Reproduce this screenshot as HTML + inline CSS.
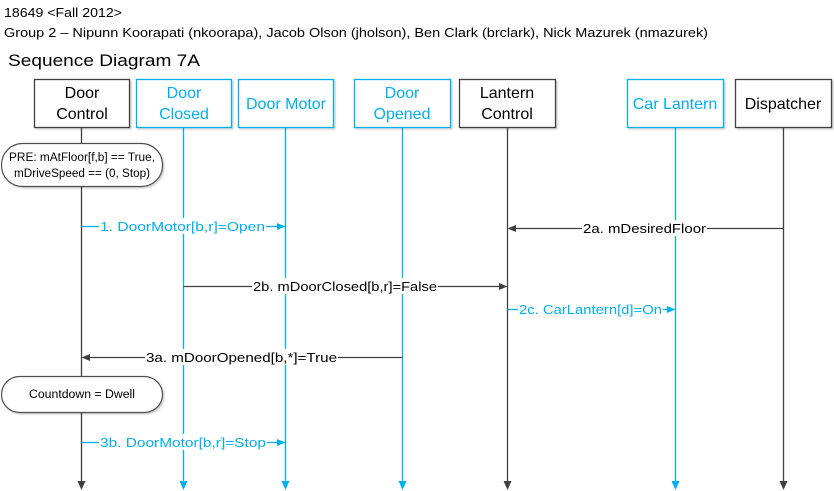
<!DOCTYPE html>
<html><head><meta charset="utf-8"><style>
html,body{margin:0;padding:0;background:#fff;}
svg{display:block;}
text{font-family:"Liberation Sans",sans-serif;}
</style></head><body>
<svg width="834" height="491" viewBox="0 0 834 491" xmlns="http://www.w3.org/2000/svg">
<defs>
<filter id="sh" x="-10%" y="-10%" width="130%" height="130%"><feDropShadow dx="1.5" dy="1.5" stdDeviation="0.8" flood-color="#000" flood-opacity="0.18"/></filter>
</defs>
<text x="4" y="17" font-size="13" fill="#000" textLength="118" lengthAdjust="spacingAndGlyphs">18649 &lt;Fall 2012&gt;</text>
<text x="4" y="37" font-size="13" fill="#000" textLength="704" lengthAdjust="spacingAndGlyphs">Group 2 – Nipunn Koorapati (nkoorapa), Jacob Olson (jholson), Ben Clark (brclark), Nick Mazurek (nmazurek)</text>
<text x="8" y="66" font-size="17" fill="#000" textLength="192" lengthAdjust="spacingAndGlyphs">Sequence Diagram 7A</text>

<g stroke-width="1.3">
<line x1="81.5" y1="127" x2="81.5" y2="483" stroke="#404040"/>
<line x1="183.5" y1="127" x2="183.5" y2="483" stroke="#00b0f0"/>
<line x1="285.5" y1="127" x2="285.5" y2="483" stroke="#00b0f0"/>
<line x1="402.5" y1="127" x2="402.5" y2="483" stroke="#00b0f0"/>
<line x1="507.5" y1="127" x2="507.5" y2="483" stroke="#404040"/>
<line x1="675.5" y1="127" x2="675.5" y2="483" stroke="#00b0f0"/>
<line x1="783.5" y1="127" x2="783.5" y2="483" stroke="#404040"/>
</g>
<g>
<path d="M77.5,481 L85.5,481 L81.5,490 Z" fill="#404040"/>
<path d="M179.5,481 L187.5,481 L183.5,490 Z" fill="#00b0f0"/>
<path d="M281.5,481 L289.5,481 L285.5,490 Z" fill="#00b0f0"/>
<path d="M398.5,481 L406.5,481 L402.5,490 Z" fill="#00b0f0"/>
<path d="M503.5,481 L511.5,481 L507.5,490 Z" fill="#404040"/>
<path d="M671.5,481 L679.5,481 L675.5,490 Z" fill="#00b0f0"/>
<path d="M779.5,481 L787.5,481 L783.5,490 Z" fill="#404040"/>
</g>

<g fill="#fff" stroke-width="1.3" filter="url(#sh)">
<rect x="34.5" y="79.5" width="95" height="48" stroke="#404040"/>
<rect x="136.5" y="79.5" width="95" height="48" stroke="#00b0f0"/>
<rect x="238.5" y="79.5" width="95" height="48" stroke="#00b0f0"/>
<rect x="354.5" y="79.5" width="96" height="48" stroke="#00b0f0"/>
<rect x="459.5" y="79.5" width="96" height="48" stroke="#404040"/>
<rect x="627.5" y="79.5" width="96" height="48" stroke="#00b0f0"/>
<rect x="735.5" y="79.5" width="96" height="48" stroke="#404040"/>
</g>
<g font-size="16" text-anchor="middle">
<text x="82" y="98" fill="#000">Door</text><text x="82" y="119" fill="#000">Control</text>
<text x="184" y="98" fill="#00b0f0">Door</text><text x="184" y="119" fill="#00b0f0">Closed</text>
<text x="286" y="109" fill="#00b0f0">Door Motor</text>
<text x="402" y="98" fill="#00b0f0">Door</text><text x="402" y="119" fill="#00b0f0">Opened</text>
<text x="507" y="98" fill="#000">Lantern</text><text x="507" y="119" fill="#000">Control</text>
<text x="675" y="109" fill="#00b0f0">Car Lantern</text>
<text x="783" y="109" fill="#000">Dispatcher</text>
</g>

<g filter="url(#sh)">
<rect x="1.5" y="143.5" width="161" height="43" rx="21" ry="21" fill="#fff" stroke="#505050" stroke-width="1.2"/>
<rect x="1.5" y="376.5" width="161" height="36" rx="18" ry="18" fill="#fff" stroke="#505050" stroke-width="1.2"/>
</g>
<text x="82" y="161" font-size="11.5" text-anchor="middle" textLength="146" lengthAdjust="spacingAndGlyphs">PRE: mAtFloor[f,b] == True,</text>
<text x="82" y="177" font-size="11.5" text-anchor="middle" textLength="136" lengthAdjust="spacingAndGlyphs">mDriveSpeed == (0, Stop)</text>
<text x="82" y="398" font-size="11.5" text-anchor="middle" textLength="106" lengthAdjust="spacingAndGlyphs">Countdown = Dwell</text>

<g stroke-width="1.2">
<line x1="81.5" y1="226.5" x2="279" y2="226.5" stroke="#00b0f0"/>
<path d="M277,223 L285.5,226.5 L277,230 Z" fill="#00b0f0"/>
<line x1="514" y1="228.5" x2="783.5" y2="228.5" stroke="#404040"/>
<path d="M516,225 L507.5,228.5 L516,232 Z" fill="#404040"/>
<line x1="183.5" y1="286.5" x2="501" y2="286.5" stroke="#404040"/>
<path d="M499,283 L507.5,286.5 L499,290 Z" fill="#404040"/>
<line x1="507.5" y1="309.5" x2="669" y2="309.5" stroke="#00b0f0"/>
<path d="M667,306 L675.5,309.5 L667,313 Z" fill="#00b0f0"/>
<line x1="88" y1="357.5" x2="402.5" y2="357.5" stroke="#404040"/>
<path d="M90,354 L81.5,357.5 L90,361 Z" fill="#404040"/>
<line x1="81.5" y1="442.5" x2="279" y2="442.5" stroke="#00b0f0"/>
<path d="M277,439 L285.5,442.5 L277,446 Z" fill="#00b0f0"/>
</g>
<g fill="#fff">
<rect x="99" y="218" width="167" height="16"/>
<rect x="582" y="220" width="125" height="16"/>
<rect x="252" y="278" width="186" height="16"/>
<rect x="518" y="301" width="145" height="16"/>
<rect x="145" y="349" width="193" height="16"/>
<rect x="99" y="434" width="168" height="16"/>
</g>
<g font-size="13">
<text x="100" y="231" fill="#00b0f0" textLength="165" lengthAdjust="spacingAndGlyphs">1.  DoorMotor[b,r]=Open</text>
<text x="583" y="233" fill="#000" textLength="123" lengthAdjust="spacingAndGlyphs">2a.  mDesiredFloor</text>
<text x="253" y="291" fill="#000" textLength="184" lengthAdjust="spacingAndGlyphs">2b.  mDoorClosed[b,r]=False</text>
<text x="519" y="314" fill="#00b0f0" textLength="143" lengthAdjust="spacingAndGlyphs">2c.  CarLantern[d]=On</text>
<text x="146" y="362" fill="#000" textLength="191" lengthAdjust="spacingAndGlyphs">3a.  mDoorOpened[b,*]=True</text>
<text x="100" y="447" fill="#00b0f0" textLength="166" lengthAdjust="spacingAndGlyphs">3b.  DoorMotor[b,r]=Stop</text>
</g>
</svg>
</body></html>
